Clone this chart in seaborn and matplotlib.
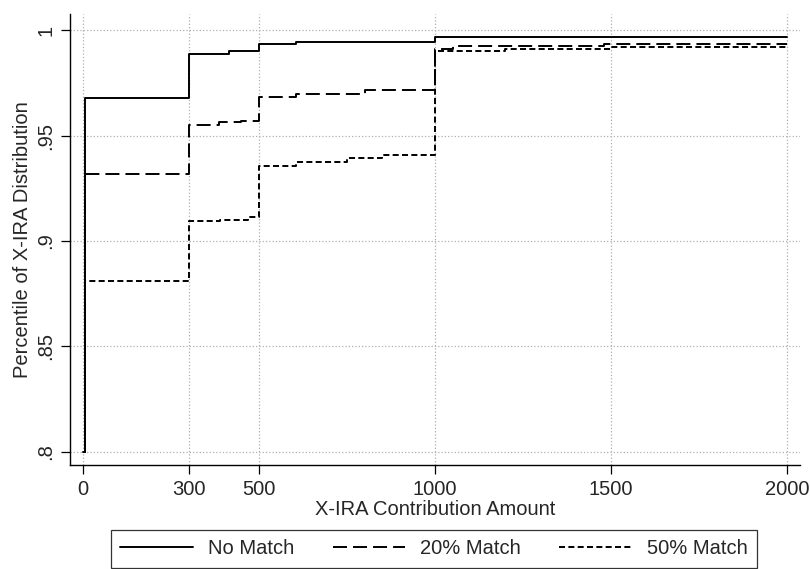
import matplotlib
matplotlib.use("Agg")
import matplotlib.pyplot as plt
import seaborn as sns
import pandas as pd
from matplotlib.lines import Line2D

# ---- data ----
no_match_x = [0, 5, 300, 415, 500, 605, 1000, 2000]
no_match_y = [0.80, 0.968, 0.989, 0.9903, 0.9935, 0.9945, 0.997, 0.997]

match20_x = [0, 5, 300, 385, 450, 500, 605, 800, 1000, 1050, 1480, 2000]
match20_y = [0.80, 0.932, 0.955, 0.9565, 0.957, 0.9685, 0.970, 0.9715, 0.991, 0.9925, 0.9935, 0.9935]

match50_x = [0, 5, 300, 390, 470, 500, 605, 750, 850, 1000, 1200, 1500, 2000]
match50_y = [0.80, 0.881, 0.9095, 0.910, 0.9115, 0.9355, 0.9375, 0.9395, 0.941, 0.990, 0.991, 0.992, 0.992]

series_names = ["No Match", "20% Match", "50% Match"]
x_ticks = [0, 300, 500, 1000, 1500, 2000]
y_ticks = [0.8, 0.85, 0.9, 0.95, 1.0]
y_tick_labels = [".8", ".85", ".9", ".95", "1"]

frames = []
for name, xs, ys in zip(series_names, [no_match_x, match20_x, match50_x],
                        [no_match_y, match20_y, match50_y]):
    frames.append(pd.DataFrame({"amount": xs, "pct": ys, "series": name}))
df = pd.concat(frames, ignore_index=True)

sns.set_theme(style="white")
plt.rcParams["font.family"] = ["Liberation Sans", "DejaVu Sans"]

FS = 14.5
LW = 1.4
W, H = 810, 569
fig = plt.figure(figsize=(W / 100, H / 100), dpi=100)
ax = fig.add_axes([70 / W, 1 - 465 / H, (800 - 70) / W, (465 - 14) / H])

dash_map = {"No Match": "", "20% Match": (7.2, 3.1), "50% Match": (3.1, 1.7)}
sns.lineplot(data=df, x="amount", y="pct", style="series", style_order=series_names,
             dashes=dash_map, ax=ax, color="black", linewidth=LW,
             drawstyle="steps-post", estimator=None, sort=False, legend=False)

ax.set_xlim(-37, 2037)
ax.set_ylim(0.7936, 1.0078)
ax.set_xticks(x_ticks)
ax.set_yticks(y_ticks)
ax.set_yticklabels(y_tick_labels, rotation=90, va="center")
ax.tick_params(axis="both", direction="out", length=6.5, width=0.9,
               color="black", labelsize=FS, pad=4, bottom=True, left=True)
ax.grid(True, color="#b0b0b0", linestyle=":", linewidth=0.9)
for s in ["top", "right"]:
    ax.spines[s].set_visible(False)
for s in ["left", "bottom"]:
    ax.spines[s].set_color("black")
    ax.spines[s].set_linewidth(1.0)

ax.set_xlabel("X-IRA Contribution Amount", fontsize=FS, labelpad=1)
ax.set_ylabel("Percentile of X-IRA Distribution", fontsize=FS, labelpad=3)

handles = [Line2D([0], [0], color="black", lw=LW, linestyle="-"),
           Line2D([0], [0], color="black", lw=LW, dashes=dash_map["20% Match"]),
           Line2D([0], [0], color="black", lw=LW, dashes=dash_map["50% Match"])]
leg = fig.legend(handles, series_names, loc="center", bbox_to_anchor=(434 / W, 1 - 549 / H),
                 ncol=3, fontsize=FS, frameon=True, fancybox=False,
                 handlelength=3.6, columnspacing=1.9, handletextpad=0.75,
                 borderpad=0.45)
leg.get_frame().set_edgecolor("black")
leg.get_frame().set_linewidth(0.9)

fig.savefig("out.png", dpi=100)
